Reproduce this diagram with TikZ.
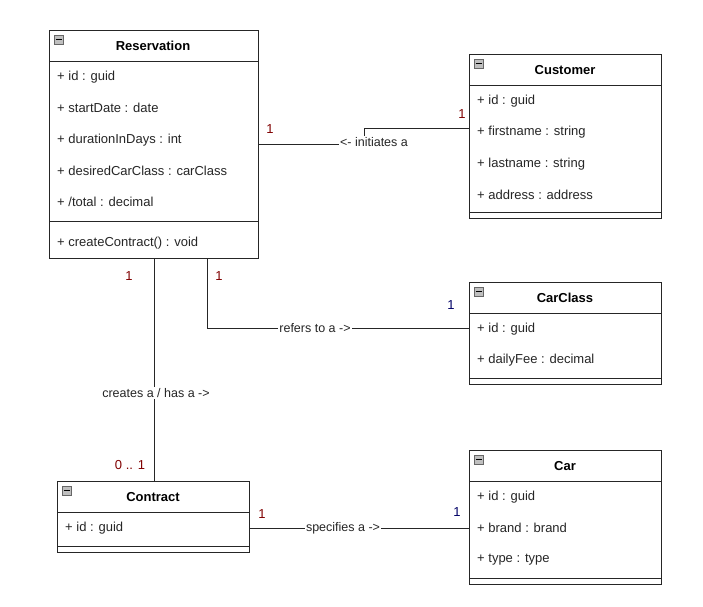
\documentclass[tikz,border=0pt]{standalone}
\usepackage{fontspec}
\setmainfont{Liberation Sans}
\begin{document}
\begin{tikzpicture}[x=1pt,y=-1pt,
  box/.style={draw=black!85,line width=1pt,fill=white,anchor=north west,inner sep=0},
  attr/.style={anchor=west,inner sep=0,font=\fontsize{13}{15}\selectfont,text=black!85},
  title/.style={inner sep=0,font=\fontsize{13}{15}\selectfont\bfseries},
  lbl/.style={inner sep=1pt,fill=white,font=\fontsize{12.5}{15}\selectfont,text=black!85},
  ms/.style={inner sep=0,font=\fontsize{13}{15}\selectfont},
  src/.style={ms,text=red!50!black},
  dst/.style={ms,text=blue!40!black},
  conn/.style={draw=black!85,line width=1pt},
  sep/.style={draw=black!85,line width=1pt},
  mini/.style={draw=black!60,fill=black!25,minimum size=9pt,inner sep=0,anchor=north west}
]
\useasboundingbox (0,0) rectangle (703,606);
% Reservation
\node[box,minimum width=209pt,minimum height=228pt] (res) at (49,30) {};
\draw[sep] (49,61) -- (258,61); \draw[sep] (49,221) -- (258,221);
\node[mini] (resm) at (54,35) {}; \draw (55.5,39.5) -- (61.5,39.5);
\node[title] (rest) at (153,46) {Reservation};
\node[attr] (r1) at (57,77) {+ id : guid};
\node[attr] (r2) at (57,108) {+ startDate : date};
\node[attr] (r3) at (57,140) {+ durationInDays : int};
\node[attr] (r4) at (57,171) {+ desiredCarClass : carClass};
\node[attr] (r5) at (57,202) {+ /total : decimal};
\node[attr] (r6) at (57,243) {+ createContract() : void};
% Customer
\node[box,minimum width=192pt,minimum height=164pt] (cus) at (469,54) {};
\draw[sep] (469,85) -- (661,85); \draw[sep] (469,212) -- (661,212);
\node[mini] (cusm) at (474,59) {}; \draw (475.5,63.5) -- (481.5,63.5);
\node[title] (cust) at (565,70) {Customer};
\node[attr] (c1) at (477,101) {+ id : guid};
\node[attr] (c2) at (477,132) {+ firstname : string};
\node[attr] (c3) at (477,164) {+ lastname : string};
\node[attr] (c4) at (477,195) {+ address : address};
% CarClass
\node[box,minimum width=192pt,minimum height=102pt] (cc) at (469,282) {};
\draw[sep] (469,313) -- (661,313); \draw[sep] (469,378) -- (661,378);
\node[mini] (ccm) at (474,287) {}; \draw (475.5,291.5) -- (481.5,291.5);
\node[title] (cct) at (565,298) {CarClass};
\node[attr] (cc1) at (477,329) {+ id : guid};
\node[attr] (cc2) at (477,360) {+ dailyFee : decimal};
% Car
\node[box,minimum width=192pt,minimum height=134pt] (car) at (469,450) {};
\draw[sep] (469,481) -- (661,481); \draw[sep] (469,578) -- (661,578);
\node[mini] (carm) at (474,455) {}; \draw (475.5,459.5) -- (481.5,459.5);
\node[title] (cart) at (565,466) {Car};
\node[attr] (ca1) at (477,497) {+ id : guid};
\node[attr] (ca2) at (477,528) {+ brand : brand};
\node[attr] (ca3) at (477,560) {+ type : type};
% Contract
\node[box,minimum width=192pt,minimum height=71pt] (con) at (57,481) {};
\draw[sep] (57,512) -- (249,512); \draw[sep] (57,546) -- (249,546);
\node[mini] (conm) at (62,486) {}; \draw (63.5,490.5) -- (69.5,490.5);
\node[title] (cont) at (153,497) {Contract};
\node[attr] (co1) at (65,528) {+ id : guid};
% connectors
\coordinate (b1) at (364,144); \coordinate (b2) at (364,128);
\draw[conn] (res.east |- b1) -- (b1) -- (b2) -- (cus.west |- b2);
\node[lbl] (l1) at (374,142) {<- initiates a};
\node[src] at (270,129) {1}; \node[src] at (462,114) {1};
\coordinate (b3) at (207,328);
\draw[conn] (res.south -| b3) -- (b3) -- (cc.west |- b3);
\node[lbl] (l2) at (315,328) {refers to a ->};
\node[src] at (219,276) {1}; \node[dst] at (451,305) {1};
\draw[conn] (res.south) -- (con.north -| res.south);
\node[lbl] (l3) at (156,393) {creates a / has a ->};
\node[src] at (129,276) {1}; \node[src] at (130,465) {0 .. 1};
\coordinate (b4) at (249,528);
\draw[conn] (con.east |- b4) -- (car.west |- b4);
\node[lbl] (l4) at (343,528) {specifies a ->};
\node[src] at (262,514) {1}; \node[dst] at (457,512) {1};
\end{tikzpicture}
\end{document}
